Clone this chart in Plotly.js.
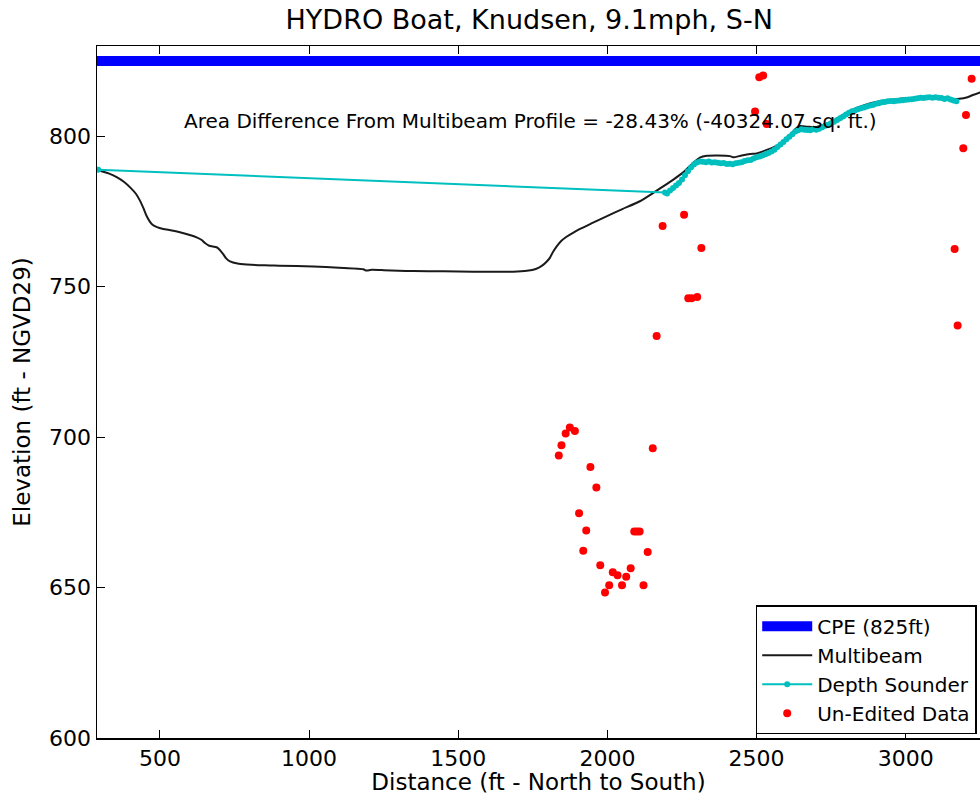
<!DOCTYPE html>
<html>
<head>
<meta charset="utf-8">
<script src="https://cdn.plot.ly/plotly-3.0.1.min.js"></script>
<style>
html,body{margin:0;padding:0;background:#fff;overflow:hidden;}
#chart{width:980px;height:795px;}
</style>
</head>
<body>
<div id="chart"></div>
<script>
const TITLE = "HYDRO Boat, Knudsen, 9.1mph, S-N";
const X_LABEL = "Distance (ft - North to South)";
const Y_LABEL = "Elevation (ft - NGVD29)";
const NOTE = "Area Difference From Multibeam Profile = -28.43% (-40324.07 sq. ft.)";
const SERIES_NAMES = ["CPE (825ft)", "Multibeam", "Depth Sounder", "Un-Edited Data"];

const cpeX = [289, 3300];
const cpeY = [825, 825];

const multibeamX = [289,300,330,355,380,400,420,433,445,455,465,475,490,511,540,567,600,623,640,651,665,690,700,712,722,735,760,791,850,900,1014,1100,1182,1190,1210,1250,1300,1349,1450,1550,1684,1730,1760,1780,1796,1807,1818,1830,1845,1863,1886,1908,1950,1997,2050,2109,2154,2200,2221,2254,2288,2310,2333,2370,2411,2422,2450,2478,2500,2530,2556,2580,2600,2612,2630,2645,2670,2701,2730,2757,2785,2813,2840,2869,2900,2940,2981,3030,3092,3130,3159,3180,3204,3225,3249,3270];
const multibeamY = [789.0,788.5,787.6,786.4,784.8,783.0,780.8,778.6,776.0,773.6,771.8,770.6,769.8,769.2,768.7,768.1,767.2,766.4,765.5,764.5,763.6,763.1,762.3,760.8,759.4,758.4,757.7,757.4,757.1,757.0,756.7,756.3,755.8,755.4,755.6,755.5,755.3,755.2,755.1,755.0,755.0,755.3,755.9,756.9,758.3,759.6,761.6,763.4,765.2,766.6,768.0,769.2,771.2,773.4,775.8,778.4,781.2,784.2,785.6,788.0,791.2,792.9,793.5,793.6,793.4,793.0,793.6,794.1,794.3,795.3,796.3,797.6,799.2,800.3,802.4,803.4,803.2,803.1,804.0,805.2,806.8,808.4,809.6,810.6,811.4,812.0,812.5,812.7,812.9,812.8,812.4,812.5,812.9,813.7,814.6,815.3];

const sounderX = [293,2193,2200,2210,2220,2230,2240,2250,2260,2270,2280,2290,2300,2310,2320,2330,2340,2350,2360,2370,2380,2390,2400,2410,2420,2430,2440,2450,2460,2470,2480,2490,2500,2510,2520,2530,2540,2550,2560,2570,2580,2590,2600,2610,2620,2630,2640,2650,2660,2670,2680,2690,2700,2710,2720,2730,2740,2750,2760,2770,2780,2790,2800,2810,2820,2830,2840,2850,2860,2870,2880,2890,2900,2910,2920,2930,2940,2950,2960,2970,2980,2990,3000,3010,3020,3030,3040,3050,3060,3070,3080,3090,3100,3110,3120,3130,3140,3150,3160,3170];
const sounderY = [788.9,781.3,781.0,782.0,782.8,783.6,784.5,785.6,787.0,788.4,789.6,790.6,791.3,791.6,791.5,791.4,791.6,791.3,791.4,791.2,791.0,791.1,790.8,790.9,790.7,791.0,791.2,791.4,791.8,792.0,792.1,792.6,793.0,793.3,793.6,794.0,794.4,794.9,795.5,796.4,797.3,798.1,799.0,799.8,800.7,801.6,802.0,802.3,802.2,802.1,802.0,802.3,802.2,802.5,803.0,803.5,803.8,804.3,804.8,805.4,806.0,806.6,807.2,807.8,808.3,808.6,809.0,809.3,809.6,809.9,810.2,810.4,810.8,811.0,811.3,811.4,811.6,811.7,811.6,811.8,811.9,812.0,812.1,812.2,812.3,812.5,812.6,812.8,812.7,812.9,813.0,812.8,813.0,812.8,812.7,812.4,812.6,812.2,811.9,811.6];

const rawX = [1837,1846,1860,1874,1891,1905,1919,1929,1943,1963,1976,1992,2006,2018,2034,2049,2063,2078,2090,2099,2108,2121,2135,2152,2165,2185,2257,2271,2282,2301,2315,2495,2509,2522,2534,3164,3174,3193,3202,3221];
const rawY = [693.9,697.3,701.2,703.2,702.0,674.7,662.2,669.0,690.1,683.3,657.4,648.4,650.8,655.1,654.1,650.8,653.6,656.4,668.6,668.6,668.6,650.8,661.8,696.3,733.6,770.2,773.9,746.2,746.2,746.6,762.9,808.2,819.6,820.2,804.1,762.5,737.1,796.0,807.1,819.1];

const FONT = "DejaVu Sans, Liberation Sans, sans-serif";

const traces = [
  {x: cpeX, y: cpeY, name: SERIES_NAMES[0], type: "scatter", mode: "lines",
   line: {color: "#0000FF", width: 10}},
  {x: multibeamX, y: multibeamY, name: SERIES_NAMES[1], type: "scatter", mode: "lines",
   line: {color: "#1a1a1a", width: 2, shape: "spline", smoothing: 0.6}},
  {x: sounderX, y: sounderY, name: SERIES_NAMES[2], type: "scatter", mode: "lines+markers",
   line: {color: "#00BFBF", width: 2}, marker: {color: "#00BFBF", size: 6}},
  {x: rawX, y: rawY, name: SERIES_NAMES[3], type: "scatter", mode: "markers",
   marker: {color: "#FF0000", size: 8}}
];

const layout = {
  width: 980, height: 795,
  margin: {l: 97, r: 0, t: 46, b: 57},
  paper_bgcolor: "#fff", plot_bgcolor: "#fff",
  font: {family: FONT, color: "#000", size: 20},
  showlegend: true,
  title: {text: TITLE, font: {family: FONT, size: 27, color: "#000"},
          xref: "container", x: 0.54, xanchor: "center",
          yref: "container", y: 0.975, yanchor: "middle"},
  xaxis: {
    range: [289, 3249], dtick: 500, tick0: 0,
    showgrid: false, zeroline: false,
    showline: true, linecolor: "#000", linewidth: 1.5, mirror: "ticks",
    ticks: "inside", ticklen: 8, tickwidth: 1, tickcolor: "#000",
    tickfont: {family: FONT, size: 22, color: "#000"},
    title: {text: X_LABEL, font: {family: FONT, size: 23, color: "#000"}, standoff: 4}
  },
  yaxis: {
    range: [600, 830], dtick: 50, tick0: 0,
    showgrid: false, zeroline: false,
    showline: true, linecolor: "#000", linewidth: 1.5, mirror: false,
    ticks: "inside", ticklen: 8, tickwidth: 1, tickcolor: "#000",
    tickfont: {family: FONT, size: 22, color: "#000"},
    title: {text: Y_LABEL, font: {family: FONT, size: 23, color: "#000"}, standoff: 12}
  },
  legend: {
    x: 0.746, xanchor: "left", y: 0.192, yanchor: "top",
    bgcolor: "#fff", bordercolor: "#000", borderwidth: 1.5,
    font: {family: FONT, size: 20, color: "#000"},
    itemwidth: 50, tracegroupgap: 0, entrywidth: 240
  },
  annotations: [{
    text: NOTE, xref: "x", yref: "y", x: 574, y: 805,
    xanchor: "left", yanchor: "middle", showarrow: false,
    font: {family: FONT, size: 20, color: "#000"}
  }]
};

Plotly.newPlot("chart", traces, layout, {displayModeBar: false, staticPlot: true});
</script>
</body>
</html>
